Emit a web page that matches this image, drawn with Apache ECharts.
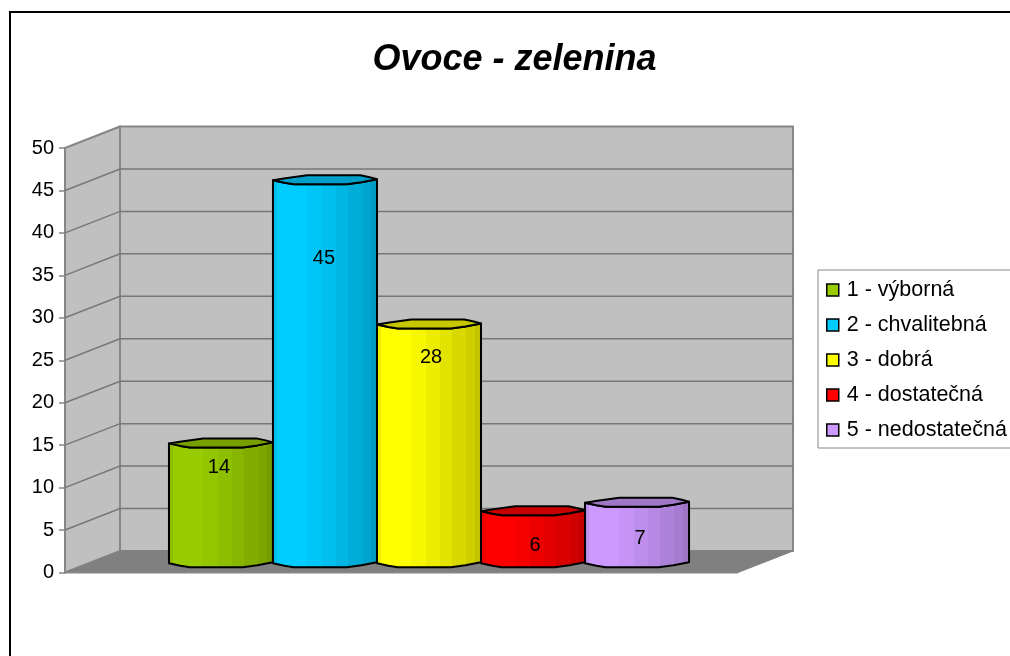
<!DOCTYPE html>
<html><head><meta charset="utf-8">
<script src="https://cdn.jsdelivr.net/npm/echarts@6/dist/echarts.min.js"></script>
<style>html,body{margin:0;padding:0;background:#fff;overflow:hidden}#c{width:1010px;height:656px}</style>
</head><body><div id="c"></div>
<script>
const chartTitle = 'Ovoce - zelenina';
const categories = ['Ovoce - zelenina'];
const grades = ['1 - výborná', '2 - chvalitebná', '3 - dobrá', '4 - dostatečná', '5 - nedostatečná'];
const values = [14, 45, 28, 6, 7];
const yTicks = [0, 5, 10, 15, 20, 25, 30, 35, 40, 45, 50];
const palette = [[153,204,0],[0,204,255],[255,255,0],[255,0,0],[204,153,255]];

// layout / style constants (pixels)
const DX = 55, DY = -21.5;
const BAND_TO_BAR = 6.47;
const labelDrop = [25, 79, 33, 35, 36];
const labelShift = [-2, -1, 2, 2, 3];
const facets = [[0,.93],[.05,1],[.12,1],[.3,1],[.33,.97],[.47,.93],[.6,.89],[.72,.85],[.85,.81],[.93,.76],[1,.76]];
const frontProfile = [[0,.5],[.11,3],[.2,4.5],[.71,4.5],[.85,2.5],[1,-.5]];
const backProfile = [[.93,-2.5],[.84,-4.5],[.33,-4.5],[.12,-1.5]];
const FONT = '"Liberation Sans", Arial, sans-serif';

const shade = (c, k) => 'rgb(' + c.map(v => Math.round(v * k)).join(',') + ')';
const stopsFor = c => {
  const s = [];
  for (let i = 0; i < facets.length - 1; i++) {
    s.push({offset: facets[i][0], color: shade(c, facets[i][1])});
    s.push({offset: facets[i + 1][0], color: shade(c, facets[i][1])});
  }
  return s;
};

const chart = echarts.init(document.getElementById('c'), null, {renderer: 'canvas'});

function wallsItem(params, api) {
  const cs = params.coordSys;
  const t = api.coord([0, api.value(1)])[1], b = api.coord([0, api.value(2)])[1];
  const l = cs.x, r = cs.x + cs.width;
  const edge = {stroke: '#868686', lineWidth: 2, lineJoin: 'round'};
  return {type: 'group', children: [
    {type: 'polygon', shape: {points: [[l + DX, t + DY], [r + DX, t + DY], [r + DX, b + DY], [l + DX, b + DY]]}, style: {fill: '#c0c0c0', ...edge}},
    {type: 'polygon', shape: {points: [[l, t], [l + DX, t + DY], [l + DX, b + DY], [l, b]]}, style: {fill: '#c0c0c0', ...edge}},
    {type: 'polygon', shape: {points: [[l, b], [l + DX, b + DY], [r + DX, b + DY], [r, b]]}, style: {fill: '#808080', stroke: '#808080', lineWidth: 1}},
    {type: 'line', shape: {x1: l, y1: b, x2: r, y2: b}, style: {stroke: '#868686', lineWidth: 2}}
  ]};
}

function gridItem(params, api) {
  const cs = params.coordSys;
  const y = api.coord([0, api.value(1)])[1];
  const l = cs.x, r = cs.x + cs.width;
  return {type: 'polyline', shape: {points: [[l, y], [l + DX, y + DY], [r + DX, y + DY]]},
    style: {fill: 'none', stroke: '#777777', lineWidth: 1.5}};
}

const barItem = (i) => (params, api) => {
  const v = api.value(1);
  const top = api.coord([0, v]);
  const base = api.coord([0, 0]);
  const w = api.size([1, 0])[0] / BAND_TO_BAR;
  const cx = top[0] + DX / 2 + (i - 2) * w;
  const x0 = cx - w / 2;
  const yT = top[1] + DY / 2, yB = base[1] + DY / 2 + 1;
  const c = palette[i];
  const at = (y) => (p) => [x0 + p[0] * w, y + p[1]];
  const front = y => frontProfile.map(at(y));
  const back = y => backProfile.map(at(y));
  const body = front(yT).concat(front(yB).reverse());
  const stroke = {stroke: '#000', lineWidth: 2, lineJoin: 'round'};
  return {type: 'group', children: [
    {type: 'polygon', shape: {points: body},
      style: {fill: {type: 'linear', x: 0, y: 0, x2: 1, y2: 0, colorStops: stopsFor(c)}, ...stroke}},
    {type: 'polygon', shape: {points: front(yT).concat(back(yT))},
      style: {fill: shade(c, .78), ...stroke}},
    {type: 'text', style: {text: String(v), x: cx + labelShift[i], y: yT + labelDrop[i], textAlign: 'center', textVerticalAlign: 'middle',
      font: '20px ' + FONT, fill: '#000'}}
  ]};
};

const series = [
  {type: 'custom', name: 'walls', renderItem: wallsItem, data: [[0, yTicks[yTicks.length - 1], yTicks[0]]], silent: true, z: 2},
  {type: 'custom', name: 'grid', renderItem: gridItem, data: yTicks.slice(1, -1).map(t => [0, t]), silent: true, z: 2}
].concat(grades.map((g, i) => ({
  type: 'custom', name: g, renderItem: barItem(i), data: [[0, values[i]]],
  itemStyle: {color: shade(palette[i], 1)}, z: 3
})));

chart.setOption({
  animation: false,
  backgroundColor: '#fff',
  title: {text: chartTitle, left: 509.5, top: 37, textAlign: 'center',
    textStyle: {fontFamily: FONT, fontSize: 36, fontWeight: 'bold', fontStyle: 'italic', color: '#000'}},
  legend: {
    orient: 'vertical', left: 818, top: 270, data: grades, icon: 'rect', itemWidth: 12, itemHeight: 12, itemGap: 13,
    padding: [9, 40, 7, 8], backgroundColor: '#fff', borderColor: '#868686', borderWidth: 1,
    itemStyle: {borderColor: '#000', borderWidth: 1.5},
    textStyle: {fontFamily: FONT, fontSize: 21.5, color: '#000', padding: [0, 0, 0, 3]},
    selectedMode: false
  },
  grid: {left: 65, top: 148, width: 673, height: 424.5},
  xAxis: {type: 'category', data: categories, axisLabel: {show: false}, axisTick: {show: false}, axisLine: {show: false}},
  yAxis: {type: 'value', min: yTicks[0], max: yTicks[yTicks.length - 1], interval: yTicks[1] - yTicks[0],
    axisLine: {show: true, lineStyle: {color: '#868686', width: 2}},
    axisTick: {show: true, length: 6, lineStyle: {color: '#868686', width: 1.5}},
    axisLabel: {color: '#000', fontFamily: FONT, fontSize: 20, margin: 11},
    splitLine: {show: false}},
  graphic: [{type: 'rect', silent: true, z: -10, shape: {x: 10, y: 12, width: 1100, height: 800},
    style: {fill: 'none', stroke: '#000', lineWidth: 2}}],
  series
});
</script></body></html>
